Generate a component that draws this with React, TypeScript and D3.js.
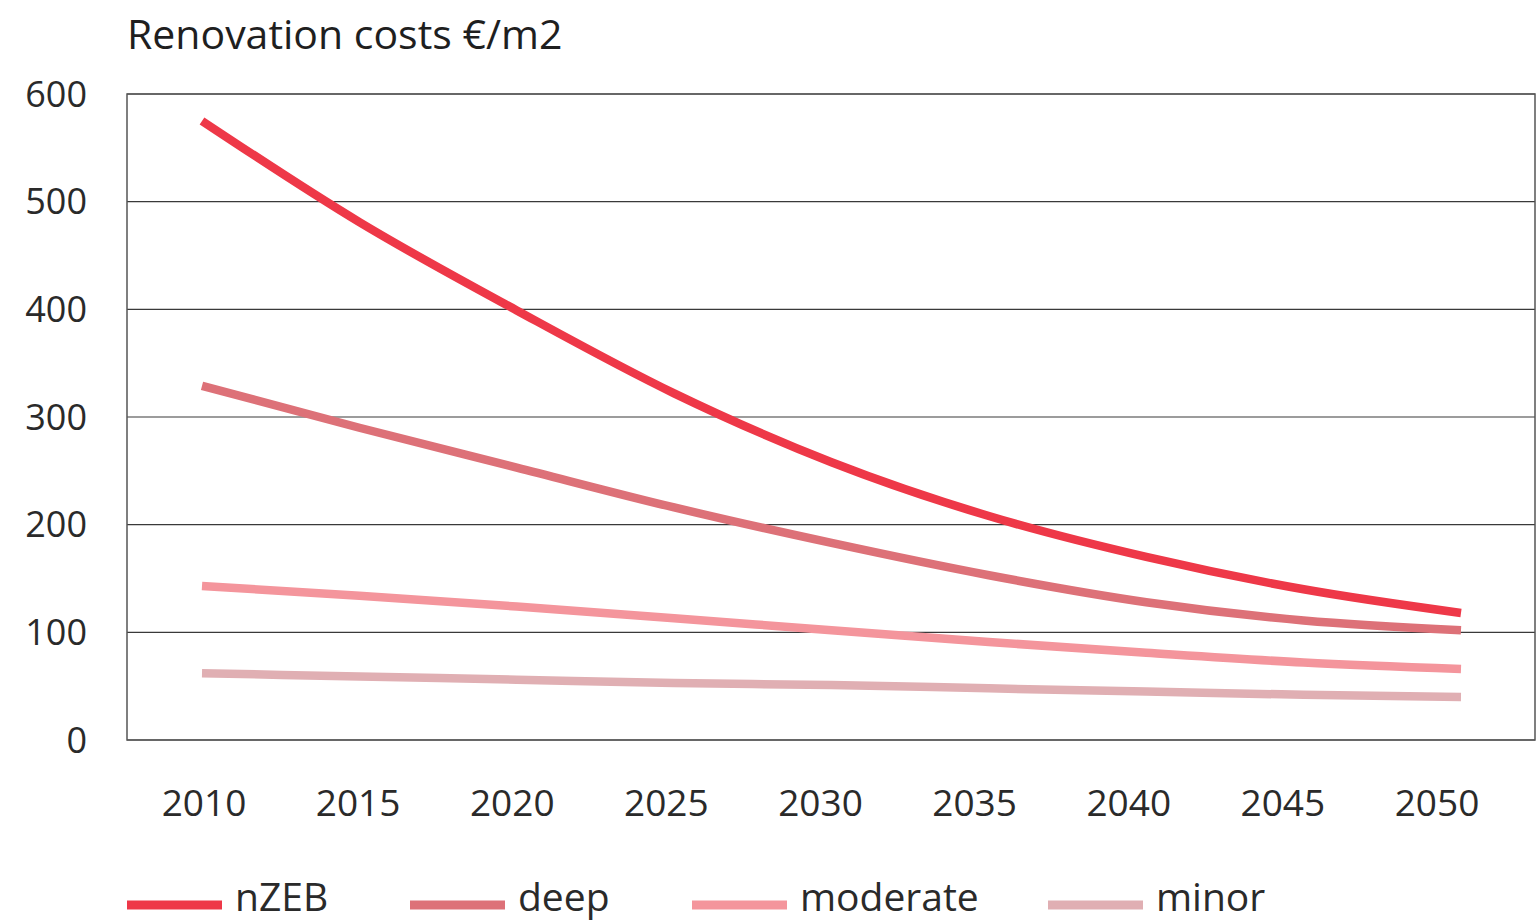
import * as d3 from "d3";
import React from "react";

const years = [2010, 2015, 2020, 2025, 2030, 2035, 2040, 2045, 2050];
const nzeb = [575, 481, 399, 322, 258, 208, 170, 140, 118];
const deep = [329, 290, 253, 216, 183, 153, 128, 111, 102];
const moderate = [143, 134, 124, 113, 102, 91, 81, 72, 66];
const minor = [62, 59, 56, 53, 51, 48, 45, 42, 40];

const seriesNames = ["nZEB", "deep", "moderate", "minor"];
const seriesColors = ["#ee3848", "#dd7178", "#f4959c", "#e0afb3"];
const yTicks = [0, 100, 200, 300, 400, 500, 600];
const xTickLabels = ["2010", "2015", "2020", "2025", "2030", "2035", "2040", "2045", "2050"];

const W = 1536;
const H = 924;
const plot = { left: 127, right: 1535, top: 94, bottom: 740 };
const FONT = "'Open Sans', 'Noto Sans', sans-serif";

const App: React.FC = () => {
  const x = d3.scaleLinear().domain([2010, 2050]).range([202, 1461]);
  const xLabel = d3.scalePoint<string>().domain(xTickLabels).range([204, 1437]);
  const y = d3.scaleLinear().domain([0, 600]).range([plot.bottom, plot.top]);

  const allSeries = [nzeb, deep, moderate, minor];
  const line = d3
    .line<number>()
    .x((_, i) => x(years[i]))
    .y((d) => y(d))
    .curve(d3.curveMonotoneX);

  // legend: swatch start positions
  const legendX = [127, 410, 692, 1048];

  return (
    <svg
      width={W}
      height={H}
      style={{ position: "absolute", left: 0, top: 0, background: "#fff" }}
      fontFamily={FONT}
    >
      <text x={127} y={49} fontSize={41} fill="#1f1f1f">
        Renovation costs €/m2
      </text>

      {/* gridlines */}
      {yTicks.map((t) => (
        <line
          key={t}
          x1={plot.left}
          x2={plot.right}
          y1={y(t)}
          y2={y(t)}
          stroke="#3a3a3a"
          strokeWidth={1.2}
        />
      ))}
      <rect
        x={plot.left}
        y={plot.top}
        width={plot.right - plot.left}
        height={plot.bottom - plot.top}
        fill="none"
        stroke="#555"
        strokeWidth={1.5}
      />

      {yTicks.map((t) => (
        <text
          key={"yl" + t}
          x={87}
          y={y(t)}
          dy="0.35em"
          textAnchor="end"
          fontSize={36}
          fill="#2a2a2a"
        >
          {t}
        </text>
      ))}

      {xTickLabels.map((t) => (
        <text
          key={"xl" + t}
          x={xLabel(t)}
          y={816}
          textAnchor="middle"
          fontSize={37}
          fill="#2a2a2a"
        >
          {t}
        </text>
      ))}

      {allSeries
        .map((s, i) => ({ s, i }))
        .reverse()
        .map(({ s, i }) => (
          <path
            key={seriesNames[i]}
            d={line(s) || ""}
            fill="none"
            stroke={seriesColors[i]}
            strokeWidth={8.5}
          />
        ))}

      {seriesNames.map((n, i) => (
        <g key={"lg" + n}>
          <line
            x1={legendX[i]}
            x2={legendX[i] + 95}
            y1={905}
            y2={905}
            stroke={seriesColors[i]}
            strokeWidth={9}
          />
          <text x={legendX[i] + 108} y={911} fontSize={39} fill="#2a2a2a">
            {n}
          </text>
        </g>
      ))}
    </svg>
  );
};

export default App;
